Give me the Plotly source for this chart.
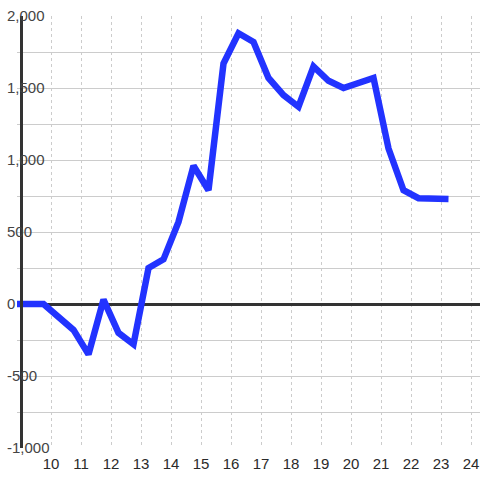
import plotly.graph_objects as go

hours = [8.75, 9.75, 10.75, 11.25, 11.75, 12.25, 12.75, 13.25, 13.75, 14.25,
         14.75, 15.25, 15.75, 16.25, 16.75, 17.25, 17.75, 18.25, 18.75, 19.25,
         19.75, 20.25, 20.75, 21.25, 21.75, 22.25, 23.25]
values = [0, 0, -180, -350, 30, -200, -280, 250, 310, 570,
          960, 790, 1670, 1880, 1820, 1570, 1450, 1370, 1650, 1550,
          1500, 1535, 1570, 1080, 790, 735, 730]
x_ticks = list(range(10, 25))
y_ticks = [-1000, -500, 0, 500, 1000, 1500, 2000]
y_labels = ["-1,000", "-500", "0", "500", "1,000", "1,500", "2,000"]

W, H = 480, 480
left = 17
plot_w = W - left

fig = go.Figure()
fig.add_trace(go.Scatter(x=hours, y=values, mode="lines",
                         line=dict(color="#2233ff", width=6.5),
                         hoverinfo="skip", showlegend=False))

fig.update_layout(
    width=W, height=H,
    margin=dict(l=left, r=0, t=16, b=H - 448),
    paper_bgcolor="white", plot_bgcolor="white",
    font=dict(family="Liberation Sans, Arial, sans-serif", size=15, color="#2a2a2a"),
    xaxis=dict(range=[10 - 34 / 30, 10 + 429 / 30], tickvals=x_ticks,
               showgrid=True, gridcolor="#cccccc", gridwidth=1, griddash="3px,3px",
               showline=False, zeroline=False, automargin=False,
               ticklabeloverflow="allow",
               ticks="outside", ticklen=2, tickcolor="rgba(0,0,0,0)"),
    yaxis=dict(range=[-1000, 2000], tickmode="array", tickvals=y_ticks, ticktext=y_labels,
               showgrid=True, gridcolor="#cccccc", gridwidth=1,
               minor=dict(tickmode="linear", tick0=0, dtick=250, showgrid=True,
                          gridcolor="#cccccc", gridwidth=1),
               showline=True, linecolor="#333", linewidth=3,
               zeroline=True, zerolinecolor="#333", zerolinewidth=3,
               anchor="free", position=(21 - 17) / plot_w, automargin=False,
               ticklabelposition="inside", ticklabelstandoff=-16,
               ticklabeloverflow="allow", ticks=""),
)
fig.write_html("out.html", config={"displayModeBar": False},
               post_script="document.body.style.margin='0';document.body.style.overflow='hidden';")
